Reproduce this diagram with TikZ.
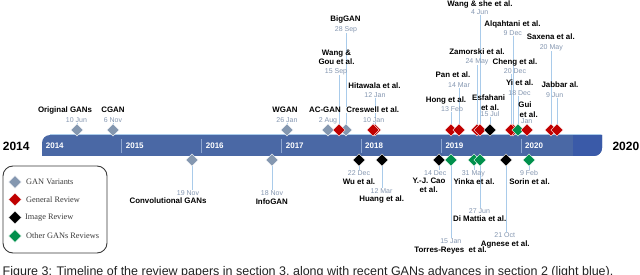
\documentclass[tikz,border=0pt]{standalone}
\usepackage{fontspec}
\setmainfont{Liberation Sans}
\newfontfamily\legfont{Liberation Serif}
\usetikzlibrary{shapes.geometric}
\pgfdeclarelayer{bg}
\pgfsetlayers{bg,main}
\definecolor{barblue}{HTML}{4A68A5}
\definecolor{barend}{HTML}{3A5AA8}
\definecolor{sepcol}{HTML}{8EA6D0}
\definecolor{lineblue}{HTML}{A9CBEA}
\definecolor{dategray}{HTML}{8496B0}
\definecolor{gvar}{HTML}{8497B0}
\definecolor{rrev}{HTML}{C00000}
\definecolor{grev}{HTML}{00904C}
\definecolor{legtext}{HTML}{3A3A3A}
\definecolor{captext}{HTML}{222222}
\begin{document}
\begin{tikzpicture}[x=1pt,y=-1pt,
  dia/.style={diamond, draw=white, line width=0.3, minimum size=12.5, inner sep=0},
  gv/.style={dia, fill=gvar},
  gr/.style={dia, fill=rrev},
  ir/.style={dia, fill=black},
  og/.style={dia, fill=grev},
  nm/.style={font=\fontsize{7.9}{9}\selectfont\bfseries, inner sep=0, anchor=base, text=black},
  dt/.style={font=\fontsize{7}{8}\selectfont, inner sep=0, anchor=base, text=dategray},
  conn/.style={draw=lineblue, line width=0.9},
  yr/.style={font=\fontsize{8}{9}\selectfont\bfseries, text=white, inner sep=0, anchor=base west},
  big/.style={font=\fontsize{12}{14}\selectfont\bfseries, inner sep=0, anchor=base west},
  leg/.style={font=\legfont\fontsize{8.3}{10}\selectfont, text=legtext, inner sep=0, anchor=west}
]
\useasboundingbox (0,0) rectangle (640,275);
\clip (0,0) rectangle (640,275);

% ---------- timeline bar ----------
\begin{pgfonlayer}{bg}
\fill[barblue] (42,156) -- (42,143) arc[start angle=180, end angle=270, radius=8] -- (602,135) -- (602,148) arc[start angle=0, end angle=90, radius=8] -- cycle;
\fill[barend] (573,135) -- (602,135) -- (602,148) arc[start angle=0, end angle=90, radius=8] -- (573,156) -- cycle;
\draw[lineblue, line width=0.8] (50,134.8) -- (601,134.8);
\foreach \sx in {121.7,201.7,281.7,361,441.5,521}
  \draw[sepcol, line width=0.6] (\sx,139) -- (\sx,153);
\end{pgfonlayer}
\node[yr] (y14) at (45.7,148.6) {2014};
\node[yr] (y15) at (125.7,148.6) {2015};
\node[yr] (y16) at (205.7,148.6) {2016};
\node[yr] (y17) at (285.7,148.6) {2017};
\node[yr] (y18) at (365,148.6) {2018};
\node[yr] (y19) at (445.3,148.6) {2019};
\node[yr] (y20) at (525,148.6) {2020};
\node[big] (b14) at (2.7,150.5) {2014};
\node[big] (b20) at (612.3,150.5) {2020};

% ---------- diamonds above ----------
\node[gv] (dOG) at (77,130) {};
\node[gv] (dCG) at (113,130) {};
\node[gv] (dWG) at (287,130) {};
\node[gv] (dBG) at (346,130) {};
\node[gv] (dAC) at (328,130) {};
\node[gr] (dWGo) at (339,130) {};
\node[gr] (dHi) at (375,130) {};
\node[gr] (dCr) at (373,130) {};
\node[gr] (dHo) at (451,130) {};
\node[gr] (dPa) at (459,130) {};
\node[gr] (dZa) at (477,130) {};
\node[gr] (dWs) at (480,130) {};
\node[ir] (dEs) at (490,130) {};
\node[gr] (dAl) at (513,130) {};
\node[gr] (dCh) at (511,130) {};
\node[og] (dYi) at (518,130) {};
\node[gr] (dGu) at (527,130) {};
\node[gr] (dSa) at (551,130) {};
\node[gr] (dJa) at (557,130) {};

% ---------- diamonds below ----------
\node[gv] (dCo) at (192,160) {};
\node[gv] (dIn) at (272,160) {};
\node[ir] (dWu) at (359,160) {};
\node[ir] (dHu) at (382,160) {};
\node[ir] (dCa) at (439,160) {};
\node[og] (dTo) at (451,160) {};
\node[og] (dYk) at (474,160) {};
\node[og] (dDi) at (480,160) {};
\node[ir] (dAg) at (506,160) {};
\node[og] (dSo) at (529,160) {};

% ---------- labels above ----------
\node[nm] (nOG) at (65,112.7) {Original GANs};
\node[dt] (tOG) at (76.5,122.4) {10 Jun};
\node[nm] (nCG) at (113,112.7) {CGAN};
\node[dt] (tCG) at (113,122.4) {6 Nov};
\node[nm] (nWG) at (285,112.7) {WGAN};
\node[dt] (tWG) at (287,122.4) {26 Jan};
\node[nm] (nAC) at (325,112.7) {AC-GAN};
\node[dt] (tAC) at (328,122.4) {2 Aug};
\node[nm] (nWGo) at (336.5,55.7) {Wang \&};
\node[nm] (nWGo2) at (336.5,64.7) {Gou et al.};
\node[dt] (tWGo) at (336,73.4) {15 Sep};
\node[nm] (nBG) at (345.5,21.4) {BigGAN};
\node[dt] (tBG) at (346,31.4) {28 Sep};
\node[nm] (nHi) at (374.5,88.7) {Hitawala et al.};
\node[dt] (tHi) at (375,97.4) {12 Jan};
\node[nm, fill=white] (nCr) at (372.8,112.7) {Creswell et al.};
\node[dt, fill=white] (tCr) at (373.7,122.4) {10 Jan};
\node[nm] (nHo) at (446,102.7) {Hong et al.};
\node[dt] (tHo) at (452,111.4) {13 Feb};
\node[nm] (nPa) at (453,77.7) {Pan et al.};
\node[dt] (tPa) at (459,87.4) {14 Mar};
\node[nm] (nZa) at (477,54.7) {Zamorski et al.};
\node[dt] (tZa) at (477,63.4) {24 May};
\node[nm] (nWs) at (480,6.2) {Wang \& she et al.};
\node[dt] (tWs) at (479.7,14.9) {4 Jun};
\node[nm] (nEs) at (488.7,100.7) {Esfahani};
\node[nm] (nEs2) at (490,110.2) {et al.};
\node[dt] (tEs) at (490,116.9) {15 Jul};
\node[nm] (nAl) at (512.5,26.7) {Alqahtani et al.};
\node[dt] (tAl) at (512.8,35.4) {9 Dec};
\node[nm] (nCh) at (515,64.7) {Cheng et al.};
\node[dt] (tCh) at (515,73.4) {20 Dec};
\node[nm] (nYi) at (519.7,85.7) {Yi et al.};
\node[dt] (tYi) at (519.5,95.4) {18 Dec};
\node[nm] (nGu) at (525,107.7) {Gui};
\node[nm] (nGu2) at (528.7,117.7) {et al.};
\node[dt] (tGu) at (526.7,123.4) {Jan};
\node[nm] (nSa) at (550.8,39.7) {Saxena et al.};
\node[dt] (tSa) at (551.3,49.4) {20 May};
\node[nm] (nJa) at (560,87.7) {Jabbar al.};
\node[dt] (tJa) at (554.7,97.4) {9 Jun};

% ---------- labels below ----------
\node[dt] (tCo) at (188,195.4) {19 Nov};
\node[nm] (nCo) at (168,203.7) {Convolutional GANs};
\node[dt] (tIn) at (272,195.1) {18 Nov};
\node[nm] (nIn) at (271.8,204.4) {InfoGAN};
\node[dt] (tWu) at (359,175.1) {22 Dec};
\node[nm] (nWu) at (359,184.4) {Wu et al.};
\node[dt] (tHu) at (381.5,193.4) {12 Mar};
\node[nm] (nHu) at (381.7,202) {Huang et al.};
\node[dt] (tCa) at (435.3,175.1) {14 Dec};
\node[nm] (nCa) at (429,183.2) {Y.-J. Cao};
\node[nm] (nCa2) at (428.7,192.7) {et al.};
\node[dt] (tTo) at (450.8,243.1) {15 Jan};
\node[nm] (nTo) at (450.5,252.7) {Torres-Reyes \ et al.};
\node[dt] (tYk) at (473.3,175.1) {31 May};
\node[nm] (nYk) at (474,184.4) {Yinka et al.};
\node[dt] (tDi) at (479.5,213.1) {27 Jun};
\node[nm] (nDi) at (479.7,222) {Di Mattia et al.};
\node[dt] (tAg) at (504.7,237.4) {21 Oct};
\node[nm] (nAg) at (505.3,247) {Agnese et al.};
\node[dt] (tSo) at (529,175.1) {9 Feb};
\node[nm] (nSo) at (529.5,184.4) {Sorin et al.};

% ---------- connectors (behind) ----------
\begin{pgfonlayer}{bg}
\foreach \k in {OG,CG,WG,AC,WGo,BG,Hi,Cr,Ho,Pa,Za,Ws,Es,Al,Ch,Yi,Gu,Sa,Ja}
  \draw[conn] (d\k.center |- t\k.south) -- (d\k.center);
\foreach \k in {Co,In,Wu,Hu,Ca,To,Yk,Di,Ag,So}
  \draw[conn] (d\k.center) -- (d\k.center |- t\k.north);
\end{pgfonlayer}

% ---------- legend ----------
\node[draw=legtext, line width=0.9, rounded corners=10, minimum width=104, minimum height=87, inner sep=0] (legbox) at (55,209.5) {};
\node[gv, minimum size=13] (l1) at (15,182) {};
\node[gr, minimum size=13] (l2) at (15,199.5) {};
\node[ir, minimum size=13] (l3) at (15,217.5) {};
\node[og, minimum size=13] (l4) at (15,236) {};
\node[leg] (lt1) at (26,182) {GAN Variants};
\node[leg] (lt2) at (26,199.5) {General Review};
\node[leg] (lt3) at (25,217.5) {Image Review};
\node[leg] (lt4) at (26,236) {Other GANs Reviews};

% ---------- caption ----------
\node[font=\fontsize{12.5}{14}\selectfont, text=captext, inner sep=0, anchor=base west] (cap) at (2.5,276) {Figure 3: Timeline of the review papers in section 3, along with recent GANs advances in section 2 (light blue).};
\end{tikzpicture}
\end{document}
